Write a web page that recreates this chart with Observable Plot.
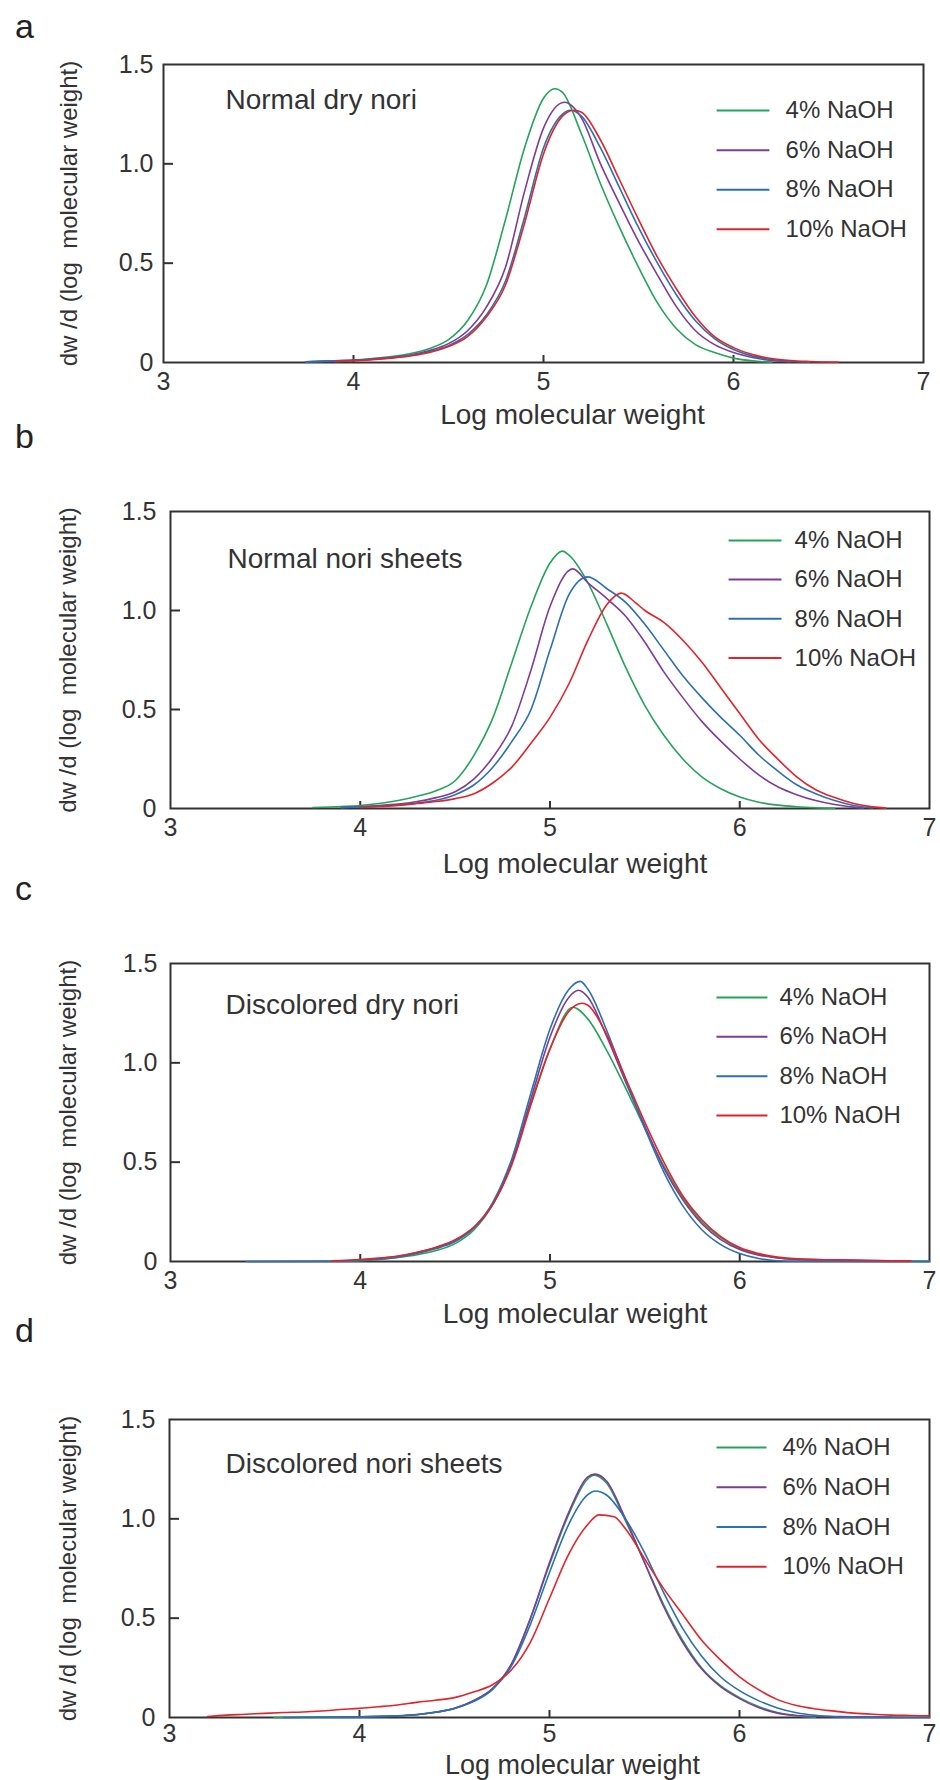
<!DOCTYPE html>
<html>
<head>
<meta charset="utf-8">
<script src="https://cdn.jsdelivr.net/npm/d3@7"></script>
<script src="https://cdn.jsdelivr.net/npm/@observablehq/plot@0.6"></script>
<style>
  body { margin: 0; background: #fff; }
  #fig { position: relative; width: 940px; height: 1780px; background: #fff;
         font-family: "Liberation Sans", Arial, sans-serif; }
  .panel { position: absolute; left: 0; }
  .letter { position: absolute; left: 15px; font-size: 34px; line-height: 34px; color: #222; }
</style>
</head>
<body>
<div id="fig"></div>
<script>
// ---------------- data ----------------
const seriesNames = ["4% NaOH", "6% NaOH", "8% NaOH", "10% NaOH"];
const seriesColors = ["#25a35a", "#7d3c98", "#2d6fb0", "#e0242b"];
const panelLetters = ["a", "b", "c", "d"];
const panelTitles = ["Normal dry nori", "Normal nori sheets", "Discolored dry nori", "Discolored nori sheets"];
const xTicks = [3, 4, 5, 6, 7];
const yTicks = [0, 0.5, 1.0, 1.5];
const yTickLabels = ["0", "0.5", "1.0", "1.5"];
const xTitle = "Log molecular weight";
const yTitle = "dw /d (log\u00a0 molecular weight)";

// panel a: Normal dry nori  [log MW, dw/d(log MW)]
const a4 = [[3.75,0.004],[3.9,0.008],[4.0,0.012],[4.1,0.02],[4.2,0.03],[4.3,0.045],[4.4,0.07],[4.5,0.115],[4.6,0.21],[4.7,0.39],[4.8,0.72],[4.9,1.08],[5.0,1.33],[5.06,1.378],[5.1,1.36],[5.2,1.15],[5.3,0.9],[5.4,0.68],[5.5,0.48],[5.6,0.3],[5.7,0.17],[5.8,0.09],[5.9,0.05],[6.0,0.022],[6.1,0.008],[6.2,0.002]];
const a6 = [[3.75,0.004],[3.9,0.008],[4.0,0.012],[4.1,0.018],[4.2,0.026],[4.3,0.038],[4.4,0.06],[4.5,0.095],[4.6,0.16],[4.7,0.28],[4.8,0.48],[4.9,0.86],[5.0,1.18],[5.11,1.31],[5.2,1.23],[5.3,1.0],[5.4,0.8],[5.5,0.61],[5.6,0.44],[5.7,0.28],[5.8,0.16],[5.9,0.09],[6.0,0.05],[6.1,0.025],[6.2,0.01],[6.3,0.003]];
const a8 = [[3.75,0.003],[3.9,0.007],[4.0,0.01],[4.1,0.016],[4.2,0.024],[4.3,0.035],[4.4,0.055],[4.5,0.085],[4.6,0.14],[4.7,0.24],[4.8,0.41],[4.9,0.73],[5.0,1.08],[5.1,1.25],[5.14,1.27],[5.2,1.24],[5.3,1.08],[5.4,0.88],[5.5,0.68],[5.6,0.5],[5.7,0.34],[5.8,0.21],[5.9,0.12],[6.0,0.065],[6.1,0.032],[6.2,0.015],[6.3,0.006],[6.4,0.002]];
const a10 = [[3.9,0.004],[4.0,0.009],[4.1,0.014],[4.2,0.022],[4.3,0.033],[4.4,0.05],[4.5,0.08],[4.6,0.13],[4.7,0.23],[4.8,0.39],[4.9,0.7],[5.0,1.05],[5.1,1.24],[5.16,1.27],[5.2,1.26],[5.3,1.12],[5.4,0.92],[5.5,0.72],[5.6,0.53],[5.7,0.37],[5.8,0.23],[5.9,0.13],[6.0,0.075],[6.1,0.04],[6.2,0.02],[6.3,0.01],[6.4,0.005],[6.55,0.001]];

// panel b: Normal nori sheets
const b4 = [[3.75,0.005],[3.9,0.01],[4.0,0.015],[4.1,0.025],[4.2,0.04],[4.3,0.062],[4.4,0.09],[4.5,0.14],[4.6,0.27],[4.7,0.46],[4.8,0.74],[4.9,1.02],[5.0,1.24],[5.065,1.3],[5.1,1.28],[5.2,1.14],[5.3,0.93],[5.4,0.71],[5.5,0.52],[5.6,0.37],[5.7,0.25],[5.8,0.16],[5.9,0.1],[6.0,0.058],[6.1,0.032],[6.2,0.017],[6.3,0.009],[6.4,0.004],[6.5,0.001]];
const b6 = [[3.9,0.005],[4.0,0.01],[4.1,0.015],[4.2,0.022],[4.3,0.035],[4.4,0.055],[4.5,0.085],[4.6,0.15],[4.7,0.26],[4.8,0.42],[4.9,0.7],[5.0,1.02],[5.12,1.21],[5.2,1.14],[5.3,1.06],[5.4,0.97],[5.5,0.84],[5.6,0.69],[5.7,0.56],[5.8,0.44],[5.9,0.34],[6.0,0.25],[6.1,0.17],[6.2,0.11],[6.3,0.07],[6.4,0.04],[6.5,0.02],[6.6,0.007],[6.65,0.002]];
const b8 = [[3.9,0.004],[4.0,0.008],[4.1,0.012],[4.2,0.018],[4.3,0.028],[4.4,0.042],[4.5,0.07],[4.6,0.12],[4.7,0.21],[4.8,0.34],[4.9,0.5],[5.0,0.8],[5.1,1.08],[5.2,1.17],[5.3,1.11],[5.4,1.04],[5.5,0.93],[5.6,0.8],[5.7,0.67],[5.8,0.56],[5.9,0.46],[6.0,0.37],[6.1,0.27],[6.2,0.19],[6.3,0.12],[6.4,0.075],[6.5,0.04],[6.6,0.015],[6.7,0.003]];
const b10 = [[4.0,0.005],[4.1,0.01],[4.2,0.016],[4.3,0.025],[4.4,0.035],[4.5,0.05],[4.6,0.075],[4.7,0.13],[4.8,0.21],[4.9,0.33],[5.0,0.46],[5.1,0.63],[5.2,0.85],[5.3,1.03],[5.375,1.088],[5.45,1.04],[5.5,1.0],[5.6,0.94],[5.7,0.85],[5.8,0.74],[5.9,0.61],[6.0,0.48],[6.1,0.35],[6.2,0.25],[6.3,0.16],[6.4,0.095],[6.5,0.055],[6.6,0.025],[6.7,0.008],[6.77,0.002]];

// panel c: Discolored dry nori
const c4 = [[3.9,0.001],[4.0,0.004],[4.1,0.01],[4.2,0.02],[4.3,0.034],[4.4,0.055],[4.5,0.09],[4.6,0.16],[4.7,0.29],[4.8,0.5],[4.9,0.8],[5.0,1.07],[5.12,1.28],[5.2,1.22],[5.3,1.06],[5.4,0.87],[5.5,0.67],[5.6,0.48],[5.7,0.32],[5.8,0.2],[5.9,0.12],[6.0,0.065],[6.1,0.035],[6.2,0.018],[6.3,0.01],[6.4,0.005],[6.6,0.002],[7.0,0.001]];
const c6 = [[3.9,0.003],[4.0,0.008],[4.1,0.015],[4.2,0.026],[4.3,0.045],[4.4,0.07],[4.5,0.105],[4.6,0.17],[4.7,0.29],[4.8,0.5],[4.9,0.82],[5.0,1.13],[5.1,1.33],[5.15,1.365],[5.2,1.33],[5.3,1.13],[5.4,0.9],[5.5,0.68],[5.6,0.47],[5.7,0.31],[5.8,0.19],[5.9,0.11],[6.0,0.06],[6.1,0.032],[6.2,0.018],[6.3,0.012],[6.5,0.008],[6.7,0.005],[6.9,0.002]];
const c8 = [[3.4,0],[3.9,0.002],[4.0,0.006],[4.1,0.012],[4.2,0.022],[4.3,0.04],[4.4,0.065],[4.5,0.1],[4.6,0.17],[4.7,0.3],[4.8,0.52],[4.9,0.85],[5.0,1.17],[5.1,1.37],[5.16,1.41],[5.2,1.37],[5.3,1.16],[5.4,0.91],[5.5,0.67],[5.6,0.45],[5.7,0.28],[5.8,0.16],[5.9,0.085],[6.0,0.04],[6.1,0.015],[6.2,0.004],[6.3,0.001],[7.0,0]];
const c10 = [[3.85,0.003],[4.0,0.01],[4.1,0.017],[4.2,0.028],[4.3,0.047],[4.4,0.072],[4.5,0.11],[4.6,0.175],[4.7,0.29],[4.8,0.49],[4.9,0.79],[5.0,1.07],[5.1,1.26],[5.17,1.3],[5.2,1.29],[5.3,1.14],[5.4,0.92],[5.5,0.7],[5.6,0.5],[5.7,0.33],[5.8,0.21],[5.9,0.125],[6.0,0.07],[6.1,0.04],[6.2,0.022],[6.3,0.013],[6.5,0.008],[6.7,0.005],[6.9,0.002]];

// panel d: Discolored nori sheets
const d4 = [[3.55,0],[3.8,0.002],[4.0,0.004],[4.1,0.006],[4.2,0.009],[4.3,0.015],[4.4,0.027],[4.5,0.047],[4.6,0.085],[4.7,0.145],[4.8,0.27],[4.9,0.5],[5.0,0.77],[5.1,1.02],[5.2,1.2],[5.235,1.22],[5.3,1.18],[5.4,0.99],[5.5,0.78],[5.6,0.57],[5.7,0.39],[5.8,0.25],[5.9,0.16],[6.0,0.1],[6.1,0.055],[6.2,0.025],[6.3,0.008],[6.4,0.002]];
const d6 = [[3.9,0.002],[4.0,0.003],[4.1,0.005],[4.2,0.008],[4.3,0.014],[4.4,0.026],[4.5,0.046],[4.6,0.084],[4.7,0.145],[4.8,0.27],[4.9,0.5],[5.0,0.78],[5.1,1.03],[5.2,1.21],[5.24,1.225],[5.3,1.19],[5.4,1.0],[5.5,0.78],[5.6,0.56],[5.7,0.38],[5.8,0.245],[5.9,0.155],[6.0,0.095],[6.1,0.05],[6.2,0.022],[6.3,0.01],[6.4,0.006],[6.6,0.004],[6.8,0.002]];
const d8 = [[3.6,0],[4.0,0.003],[4.2,0.008],[4.3,0.014],[4.4,0.026],[4.5,0.045],[4.6,0.08],[4.7,0.14],[4.8,0.26],[4.9,0.47],[5.0,0.73],[5.1,0.97],[5.2,1.12],[5.24,1.14],[5.3,1.12],[5.4,1.0],[5.5,0.83],[5.6,0.63],[5.7,0.45],[5.8,0.31],[5.9,0.205],[6.0,0.135],[6.1,0.085],[6.2,0.048],[6.3,0.024],[6.4,0.011],[6.5,0.004],[6.6,0.001],[7.0,0]];
const d10 = [[3.2,0.005],[3.3,0.012],[3.4,0.016],[3.5,0.021],[3.6,0.025],[3.7,0.028],[3.8,0.033],[3.9,0.04],[4.0,0.046],[4.1,0.054],[4.2,0.063],[4.3,0.076],[4.4,0.087],[4.5,0.1],[4.6,0.128],[4.7,0.165],[4.8,0.24],[4.9,0.38],[5.0,0.6],[5.1,0.82],[5.2,0.97],[5.26,1.02],[5.34,1.01],[5.4,0.95],[5.5,0.8],[5.6,0.65],[5.7,0.52],[5.8,0.39],[5.9,0.29],[6.0,0.205],[6.1,0.14],[6.2,0.09],[6.3,0.06],[6.4,0.043],[6.5,0.032],[6.6,0.022],[6.7,0.016],[6.8,0.012],[6.9,0.01],[7.0,0.008]];

const panelData = [[a4, a6, a8, a10], [b4, b6, b8, b10], [c4, c6, c8, c10], [d4, d6, d8, d10]];

// ---------------- layout (positions / styles only) ----------------
const layouts = [
  {top: 0,    height: 440, mt: 64, mb: 78, ml: 163, mr: 17, letterTop: 9,    ytPad: 10, xtPad: 10, xtFont: 28, xtDy: 61, xtDx: 29, ytDx: -94,  tDx: 62, tDy: 44, lx1: 5.911, lx2: 6.189, ltx: 6.274, ly0: 1.268, lstep: 0.1993},
  {top: 440,  height: 450, mt: 71, mb: 82, ml: 170, mr: 11, letterTop: 419,  ytPad: 14, xtPad: 10, xtFont: 28, xtDy: 64, xtDx: 25, ytDx: -102, tDx: 57, tDy: 56, lx1: 5.941, lx2: 6.220, ltx: 6.289, ly0: 1.354, lstep: 0.198},
  {top: 890,  height: 440, mt: 73, mb: 69, ml: 170, mr: 11, letterTop: 871,  ytPad: 13, xtPad: 10, xtFont: 28, xtDy: 61, xtDx: 25, ytDx: -102, tDx: 55, tDy: 50, lx1: 5.877, lx2: 6.146, ltx: 6.209, ly0: 1.329, lstep: 0.198},
  {top: 1330, height: 450, mt: 89, mb: 63, ml: 169, mr: 11, letterTop: 1313, ytPad: 14, xtPad: 7,  xtFont: 27, xtDy: 56, xtDx: 23, ytDx: -101, tDx: 56, tDy: 53, lx1: 5.879, lx2: 6.142, ltx: 6.226, ly0: 1.359, lstep: 0.2}
];

const fig = document.getElementById("fig");
const axisColor = "#333";

panelData.forEach((curves, p) => {
  const L = layouts[p];
  const rows = curves.flatMap((arr, s) => arr.map(([x, y]) => ({x, y, s: seriesNames[s]})));
  const legendRows = seriesNames.map((name, i) => ({name, i}));
  const legY = d => L.ly0 - d.i * L.lstep;

  const chart = Plot.plot({
    width: 940,
    height: L.height,
    marginTop: L.mt,
    marginBottom: L.mb,
    marginLeft: L.ml,
    marginRight: L.mr,
    style: {fontFamily: "'Liberation Sans', Arial, sans-serif", fontSize: "25px", color: axisColor, background: "white", overflow: "visible"},
    x: {domain: [3, 7]},
    y: {domain: [0, 1.5]},
    color: {domain: seriesNames, range: seriesColors},
    marks: [
      Plot.frame({stroke: axisColor, strokeWidth: 2}),
      // tick labels
      Plot.axisX({ticks: xTicks, tickSize: 0, tickPadding: L.xtPad, tickFormat: d => String(d), label: null, fill: axisColor}),
      Plot.axisY({ticks: yTicks, tickSize: 0, tickPadding: L.ytPad, tickFormat: d => yTickLabels[yTicks.indexOf(d)], label: null, fill: axisColor}),
      // inward tick marks
      Plot.axisX({ticks: [4, 5, 6], tickSize: 7, dy: -7, tickFormat: () => "", label: null, stroke: axisColor, strokeWidth: 2}),
      Plot.axisY({ticks: [0.5, 1.0], tickSize: 10, dx: 10, tickFormat: () => "", label: null, stroke: axisColor, strokeWidth: 2}),
      // curves
      Plot.line(rows, {x: "x", y: "y", z: "s", stroke: "s", strokeWidth: 1.6, curve: "monotone-x"}),
      // legend
      Plot.link(legendRows, {x1: L.lx1, x2: L.lx2, y1: legY, y2: legY, stroke: "name", strokeWidth: 2}),
      Plot.text(legendRows, {x: L.ltx, y: legY, text: "name", textAnchor: "start", lineAnchor: "middle", fontSize: 24, fill: axisColor}),
      // panel title inside plot
      Plot.text([panelTitles[p]], {frameAnchor: "top-left", dx: L.tDx, dy: L.tDy, textAnchor: "start", lineAnchor: "bottom", fontSize: 28, fill: axisColor}),
      // axis titles
      Plot.text([xTitle], {frameAnchor: "bottom", dx: L.xtDx, dy: L.xtDy, textAnchor: "middle", lineAnchor: "bottom", fontSize: L.xtFont, fill: axisColor}),
      Plot.text([yTitle], {frameAnchor: "left", dx: L.ytDx, rotate: -90, textAnchor: "middle", lineAnchor: "middle", fontSize: 24, fill: axisColor})
    ]
  });

  const wrap = document.createElement("div");
  wrap.className = "panel";
  wrap.style.top = L.top + "px";
  wrap.appendChild(chart);
  fig.appendChild(wrap);

  const letter = document.createElement("div");
  letter.className = "letter";
  letter.style.top = L.letterTop + "px";
  letter.textContent = panelLetters[p];
  fig.appendChild(letter);
});
</script>
</body>
</html>
